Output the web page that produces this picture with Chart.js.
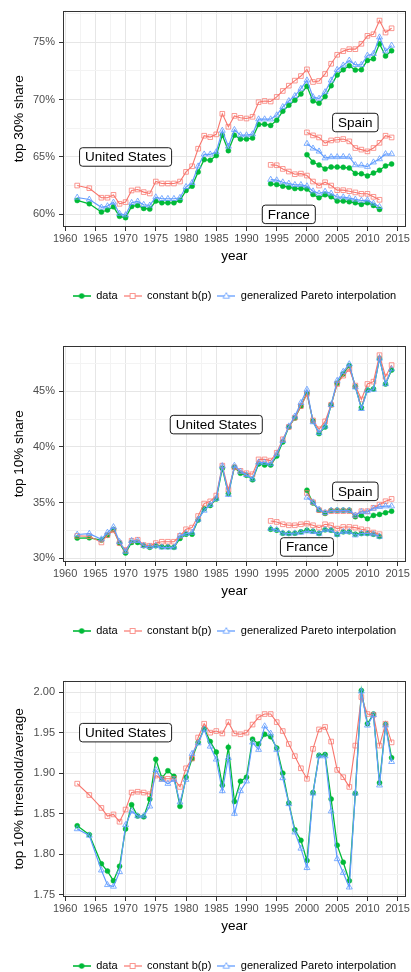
<!DOCTYPE html>
<html><head><meta charset="utf-8">
<script src="https://cdn.jsdelivr.net/npm/chart.js@4.4.0/dist/chart.umd.min.js"></script>
<style>
html,body{margin:0;padding:0;background:#fff;overflow:hidden;width:411px;height:972px}
.panel{position:absolute;left:0;width:411px;height:335px}
canvas{display:block}
</style></head><body>
<div class="panel" style="top:0px"><canvas id="c1" width="411" height="335"></canvas></div>
<div class="panel" style="top:335px"><canvas id="c2" width="411" height="335"></canvas></div>
<div class="panel" style="top:670px"><canvas id="c3" width="411" height="335"></canvas></div>
<script>
// ---------- categories ----------
const usYears = [1962,1964,1966,1967,1968,1969,1970,1971,1972,1973,1974,1975,1976,1977,1978,1979,
  1980,1981,1982,1983,1984,1985,1986,1987,1988,1989,1990,1991,1992,1993,1994,1995,1996,1997,1998,1999,
  2000,2001,2002,2003,2004,2005,2006,2007,2008,2009,2010,2011,2012,2013,2014];
const esYears = [2000,2001,2002,2003,2004,2005,2006,2007,2008,2009,2010,2011,2012,2013,2014];
const frYears = [1994,1995,1996,1997,1998,1999,2000,2001,2002,2003,2004,2005,2006,2007,2008,2009,2010,2011,2012];
const seriesNames = ['data', 'constant b(p)', 'generalized Pareto interpolation'];

// ---------- panel 1: top 30% share (%) ----------
const usTop30Data = [61.21,60.92,60.20,60.38,60.66,59.83,59.71,60.69,60.78,60.52,60.46,61.16,61.01,61.01,61.01,61.21,
  62.08,62.46,63.70,64.77,64.71,65.12,66.90,65.55,66.90,66.56,66.56,66.65,67.83,67.86,67.75,68.20,68.99,69.51,69.94,70.49,
  71.16,69.88,69.68,70.26,71.21,72.14,72.60,72.95,72.57,72.60,73.41,73.55,74.86,73.79,74.25];
const usTop30Const = [62.51,62.28,61.45,61.45,61.70,60.92,61.07,62.08,62.17,61.94,61.82,62.86,62.69,62.69,62.69,62.86,
  63.70,64.19,65.72,66.85,66.73,66.97,68.76,67.63,68.58,68.41,68.35,68.50,69.77,69.88,69.83,70.23,70.75,71.21,71.65,72.05,
  72.63,71.53,71.62,72.23,73.12,73.90,74.22,74.39,74.39,74.86,75.55,75.69,76.88,75.84,76.21];
const usTop30Gpi = [61.47,61.30,60.61,60.72,61.04,60.06,59.94,61.01,61.13,60.84,60.78,61.50,61.36,61.36,61.36,61.45,
  62.40,62.75,64.19,65.23,65.23,65.43,67.30,65.92,67.37,66.90,66.90,66.99,68.29,68.29,68.29,68.64,69.36,69.88,70.32,70.95,
  71.68,70.23,70.09,70.66,71.68,72.60,72.98,73.41,73.03,73.03,73.84,73.99,75.43,74.22,74.71];
const esTop30Data = [65.20,64.54,64.30,63.96,64.13,64.12,64.10,64.04,63.57,63.54,63.35,63.60,63.84,64.22,64.39];
const esTop30Const = [67.14,66.88,66.70,66.21,66.44,66.50,66.56,66.36,65.78,65.64,65.49,65.78,66.23,66.85,66.70];
const esTop30Gpi = [66.16,65.75,65.49,64.90,65.00,65.00,65.02,65.00,64.30,64.28,64.16,64.54,64.82,65.26,65.26];
const frTop30Data = [62.66,62.60,62.46,62.37,62.25,62.25,62.20,61.73,61.45,61.71,61.53,61.16,61.16,61.10,61.01,60.87,61.01,60.78,60.43];
const frTop30Const = [64.31,64.28,63.96,63.73,63.50,63.55,63.38,62.86,62.51,62.80,62.51,62.11,62.11,62.02,61.91,61.79,61.79,61.53,61.27];
const frTop30Gpi = [63.03,62.98,62.80,62.69,62.57,62.57,62.46,62.02,61.82,61.99,61.82,61.50,61.50,61.42,61.30,61.21,61.24,60.95,60.66];

// ---------- panel 2: top 10% share (%) ----------
const usTop10Data = [31.80,31.82,31.62,32.06,32.57,31.35,30.46,31.41,31.41,31.11,30.97,31.11,31.02,31.02,30.97,31.77,
  32.15,32.15,33.42,34.43,34.73,35.32,38.07,35.80,38.16,37.63,37.45,37.04,38.46,38.37,38.37,39.17,40.44,41.79,42.59,43.66,
  44.82,42.32,41.19,41.79,43.78,45.71,46.55,47.29,45.42,43.51,45.12,45.21,47.95,45.65,46.90];
const usTop10Const = [32.00,31.97,31.41,32.06,32.50,31.35,30.73,31.56,31.65,31.17,31.11,31.35,31.47,31.47,31.47,32.00,
  32.59,32.74,33.78,34.90,35.10,35.62,38.31,36.15,38.16,37.84,37.63,37.54,38.87,38.87,38.76,39.47,40.68,41.79,42.62,43.66,
  44.76,42.38,41.58,42.29,43.78,45.65,46.40,46.99,45.51,44.26,45.65,45.86,48.24,46.31,47.35];
const usTop10Gpi = [32.12,32.20,31.70,32.30,32.80,31.47,30.58,31.56,31.56,31.11,31.02,31.11,30.97,30.97,30.97,32.00,
  32.20,32.30,33.48,34.28,34.80,35.35,38.28,35.70,38.31,37.78,37.48,37.10,38.60,38.58,38.46,39.35,40.55,41.85,42.74,43.96,
  45.15,42.23,41.25,41.85,43.78,45.95,46.76,47.44,45.36,43.42,45.06,45.15,47.95,45.65,46.99];
const esTop10Data = [36.10,34.96,34.31,34.02,34.28,34.31,34.31,34.31,33.72,33.84,33.54,33.84,33.93,34.08,34.22];
const esTop10Const = [35.85,35.02,34.31,34.08,34.22,34.22,34.22,34.22,33.84,34.22,34.22,34.52,34.81,35.11,35.32];
const esTop10Gpi = [35.45,35.02,34.37,34.08,34.28,34.28,34.28,34.28,33.84,34.16,34.13,34.46,34.61,34.67,34.67];
const frTop10Data = [32.59,32.51,32.24,32.21,32.24,32.36,32.51,32.42,32.21,32.54,32.51,32.12,32.36,32.36,32.15,32.21,32.21,32.15,31.94];
const frTop10Const = [33.34,33.25,33.04,32.95,32.95,33.04,33.10,32.95,32.74,33.04,32.95,32.65,32.80,32.80,32.74,32.59,32.51,32.30,32.15];
const frTop10Gpi = [32.65,32.54,32.24,32.21,32.24,32.30,32.42,32.36,32.21,32.54,32.51,32.12,32.36,32.36,32.06,32.21,32.21,32.15,31.94];

// ---------- panel 3: top 10% threshold / average ----------
const usThrData = [1.835,1.824,1.788,1.779,1.767,1.785,1.831,1.861,1.847,1.846,1.868,1.917,1.894,1.903,1.896,1.859,
  1.895,1.918,1.938,1.955,1.939,1.926,1.885,1.932,1.865,1.890,1.895,1.942,1.936,1.948,1.945,1.931,1.900,1.863,1.830,1.817,
  1.792,1.876,1.922,1.923,1.868,1.811,1.790,1.767,1.875,2.002,1.961,1.973,1.888,1.960,1.919];
const usThrConst = [1.887,1.873,1.857,1.847,1.849,1.840,1.855,1.876,1.877,1.876,1.874,1.897,1.893,1.893,1.893,1.883,
  1.906,1.918,1.944,1.961,1.950,1.952,1.949,1.963,1.949,1.948,1.950,1.960,1.969,1.973,1.973,1.963,1.952,1.936,1.921,1.906,
  1.893,1.930,1.954,1.957,1.939,1.904,1.895,1.883,1.934,1.994,1.973,1.972,1.934,1.961,1.938];
const usThrGpi = [1.831,1.823,1.780,1.762,1.760,1.778,1.836,1.853,1.847,1.847,1.859,1.904,1.892,1.887,1.892,1.864,
  1.892,1.924,1.937,1.954,1.933,1.917,1.878,1.919,1.850,1.878,1.890,1.938,1.929,1.958,1.949,1.929,1.894,1.862,1.827,1.807,
  1.783,1.875,1.921,1.921,1.853,1.794,1.777,1.759,1.875,2.001,1.959,1.972,1.885,1.959,1.914];

// ---------- tick labels ----------
const xTickYears = [1960,1965,1970,1975,1980,1985,1990,1995,2000,2005,2010,2015];
const top30Ticks = [60,65,70,75];
const top10Ticks = [30,35,40,45];
const thrTicks = [1.75,1.80,1.85,1.90,1.95,2.00];

// ---------- country labels (data coordinates) ----------
const top30Labels = [['United States',1970,65],['Spain',2008,68],['France',1997,60]];
const top10Labels = [['United States',1985,42],['Spain',2008,36],['France',2000,31]];
const thrLabels = [['United States',1970,1.95]];

// ================= rendering =================
const FONT = '"Liberation Sans", Arial, Helvetica, sans-serif';
const STY = [
  {line:'#00BA38', lw:1.3, shape:'circle', r:2.5, pt:'#00BA38', fill:'#00BA38', pbw:0.5, order:2},
  {line:'#F8766D', lw:1.1, shape:'rect', r:3.3, pt:'rgba(248,118,109,0.75)', fill:'rgba(0,0,0,0)', pbw:1, order:1},
  {line:'#619CFF', lw:1.2, shape:'triangle', r:3.4, pt:'rgba(97,156,255,0.8)', fill:'rgba(0,0,0,0)', pbw:1, order:0}
];

function symbol(k){
  const c = document.createElement('canvas'); c.width = 18; c.height = 10;
  const g = c.getContext('2d');
  const col = ['#00BA38','rgba(248,118,109,0.75)','rgba(97,156,255,0.8)'][k];
  g.strokeStyle = col; g.lineWidth = 1.6;
  g.beginPath(); g.moveTo(0,5); g.lineTo(18,5); g.stroke();
  g.lineWidth = 1;
  if (k === 0){ g.fillStyle = col; g.beginPath(); g.arc(9,5,2.7,0,Math.PI*2); g.fill(); }
  else if (k === 1){ g.fillStyle='#fff'; g.fillRect(6.5,2.5,5,5); g.strokeRect(6.5,2.5,5,5); }
  else { g.fillStyle='#fff'; g.beginPath(); g.moveTo(9,1.6); g.lineTo(12.2,7.2); g.lineTo(5.8,7.2); g.closePath(); g.fill(); g.stroke(); }
  return c;
}
const SYMS = [symbol(0), symbol(1), symbol(2)];

function ds(years, vals, k){
  const s = STY[k];
  return { label: seriesNames[k], data: years.map((yr,i)=>({x:yr, y:vals[i]})),
    borderColor: s.line, borderWidth: s.lw, pointStyle: s.shape, pointRadius: s.r,
    pointBorderColor: s.pt, pointBackgroundColor: s.fill, pointBorderWidth: s.pbw,
    order: s.order, tension: 0, fill: false };
}

function near(v, arr){ return arr.some(a => Math.abs(a - v) < 1e-7); }
function withMinor(majors, min, max){
  const step = majors[1] - majors[0];
  const out = [];
  const all = [majors[0] - step/2].concat(...majors.map(m => [m, m + step/2]));
  all.forEach(v => { if (v >= min - 1e-9 && v <= max + 1e-9) out.push(v); });
  return out;
}

const annot = {
  id: 'annot',
  afterDatasetsDraw(chart, args, opts){
    const {ctx, chartArea: a, scales:{x, y}} = chart;
    ctx.save();
    ctx.font = '13.5px ' + FONT;
    ctx.textAlign = 'center'; ctx.textBaseline = 'middle';
    (opts.labels || []).forEach(([t, xv, yv]) => {
      const px = x.getPixelForValue(xv), py = y.getPixelForValue(yv);
      const w = ctx.measureText(t).width + 11, h = 18.5, r = 3;
      const l = px - w/2, tp = py - h/2;
      ctx.beginPath();
      ctx.moveTo(l + r, tp); ctx.lineTo(l + w - r, tp); ctx.arcTo(l + w, tp, l + w, tp + r, r);
      ctx.lineTo(l + w, tp + h - r); ctx.arcTo(l + w, tp + h, l + w - r, tp + h, r);
      ctx.lineTo(l + r, tp + h); ctx.arcTo(l, tp + h, l, tp + h - r, r);
      ctx.lineTo(l, tp + r); ctx.arcTo(l, tp, l + r, tp, r); ctx.closePath();
      ctx.fillStyle = '#fff'; ctx.fill();
      ctx.strokeStyle = '#000'; ctx.lineWidth = 0.9; ctx.stroke();
      ctx.fillStyle = '#000'; ctx.fillText(t, px, py + 0.5);
    });
    ctx.strokeStyle = '#333'; ctx.lineWidth = 1;
    ctx.strokeRect(Math.round(a.left) + 0.5, Math.round(a.top) + 0.5, Math.round(a.width) - 1, Math.round(a.height) - 1);
    ctx.restore();
  }
};

function makeChart(id, yTitle, yMin, yMax, yMajors, fmt, datasets, labels){
  const xMin = 1959.65, xMax = 2016.35;
  const xTicks = withMinor(xTickYears, xMin, xMax);
  const yTicks = withMinor(yMajors, yMin, yMax);
  const gridColor = (majors) => (c) => (c.tick && near(c.tick.value, majors)) ? '#E6E6E6' : '#F3F3F3';
  const tickColor = (majors) => (c) => (c.tick && near(c.tick.value, majors)) ? '#333333' : 'rgba(0,0,0,0)';
  return new Chart(document.getElementById(id), {
    type: 'line',
    data: { datasets },
    plugins: [annot],
    options: {
      responsive: false, animation: false, events: [],
      layout: { padding: { top: 10, right: 4, left: 0, bottom: 23.5 } },
      scales: {
        x: {
          type: 'linear', min: xMin, max: xMax,
          afterBuildTicks: s => { s.ticks = xTicks.map(v => ({value: v})); },
          afterFit: s => { s.height = 57.5; },
          grid: { color: gridColor(xTickYears), lineWidth: 1, tickLength: 4, tickColor: tickColor(xTickYears), tickWidth: 1 },
          border: { display: false },
          ticks: { autoSkip: false, maxRotation: 0, padding: 1, color: '#4D4D4D', font: { family: FONT, size: 11 },
            callback: v => near(v, xTickYears) ? String(Math.round(v)) : '' },
          title: { display: true, text: 'year', color: '#000', font: { family: FONT, size: 13.5 }, padding: { top: 0, bottom: 20.4 } }
        },
        y: {
          type: 'linear', min: yMin, max: yMax,
          afterBuildTicks: s => { s.ticks = yTicks.map(v => ({value: v})); },
          afterFit: s => { s.width = 63; },
          grid: { color: gridColor(yMajors), lineWidth: 1, tickLength: 4, tickColor: tickColor(yMajors), tickWidth: 1 },
          border: { display: false },
          ticks: { autoSkip: false, padding: 4, color: '#4D4D4D', font: { family: FONT, size: 11 },
            callback: v => near(v, yMajors) ? fmt(v) : '' },
          title: { display: true, text: yTitle, color: '#000', font: { family: FONT, size: 13.5 }, padding: { top: 11, bottom: 0 } }
        }
      },
      plugins: {
        annot: { labels },
        tooltip: { enabled: false },
        legend: {
          display: true, position: 'bottom', align: 'center', fullSize: false,
          labels: {
            usePointStyle: true, pointStyleWidth: 18, padding: 6, color: '#000',
            font: { family: FONT, size: 11 },
            generateLabels: () => seriesNames.map((n, k) => ({
              text: n, pointStyle: SYMS[k], fillStyle: 'rgba(0,0,0,0)', strokeStyle: 'rgba(0,0,0,0)',
              lineWidth: 0, hidden: false, fontColor: '#000', datasetIndex: k
            }))
          }
        }
      }
    }
  });
}

const pct = v => Math.round(v) + '%';
makeChart('c1', 'top 30% share', 58.9, 77.75, top30Ticks, pct, [
  ds(usYears, usTop30Data, 0), ds(usYears, usTop30Const, 1), ds(usYears, usTop30Gpi, 2),
  ds(esYears, esTop30Data, 0), ds(esYears, esTop30Const, 1), ds(esYears, esTop30Gpi, 2),
  ds(frYears, frTop30Data, 0), ds(frYears, frTop30Const, 1), ds(frYears, frTop30Gpi, 2)
], top30Labels);
makeChart('c2', 'top 10% share', 29.65, 49.1, top10Ticks, pct, [
  ds(usYears, usTop10Data, 0), ds(usYears, usTop10Const, 1), ds(usYears, usTop10Gpi, 2),
  ds(esYears, esTop10Data, 0), ds(esYears, esTop10Const, 1), ds(esYears, esTop10Gpi, 2),
  ds(frYears, frTop10Data, 0), ds(frYears, frTop10Const, 1), ds(frYears, frTop10Gpi, 2)
], top10Labels);
makeChart('c3', 'top 10% threshold/average', 1.747, 2.0143, thrTicks, v => v.toFixed(2), [
  ds(usYears, usThrData, 0), ds(usYears, usThrConst, 1), ds(usYears, usThrGpi, 2)
], thrLabels);
</script>
</body></html>
